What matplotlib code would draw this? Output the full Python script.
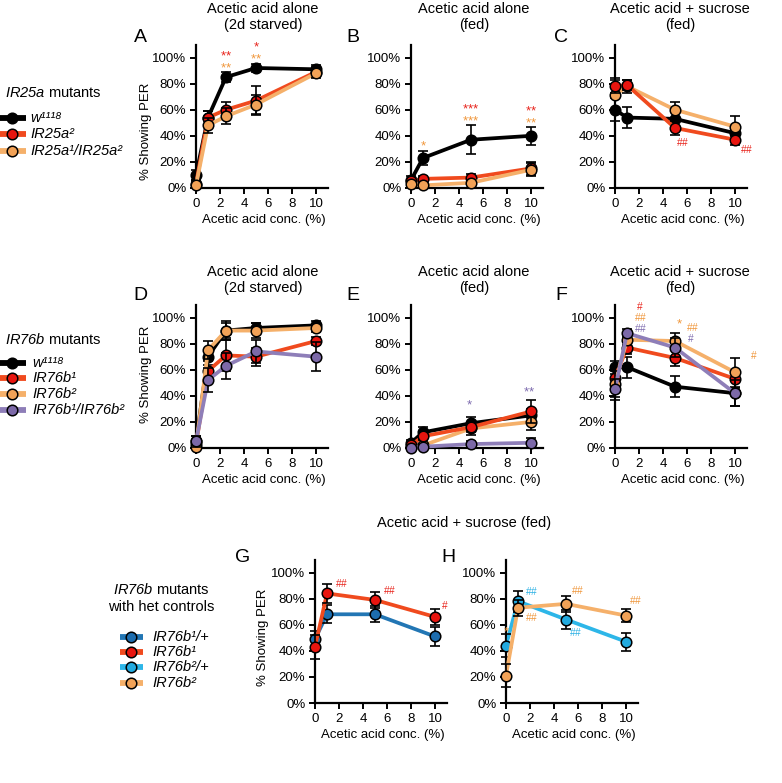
import matplotlib
matplotlib.use("Agg")
import matplotlib.pyplot as plt

plt.rcParams['font.family'] = ['Liberation Sans', 'DejaVu Sans']
plt.rcParams['mathtext.fontset'] = 'custom'
plt.rcParams['mathtext.rm'] = 'Liberation Sans:italic'
plt.rcParams['mathtext.it'] = 'Liberation Sans:italic'
plt.rcParams['mathtext.bf'] = 'Liberation Sans:bold'
plt.rcParams['mathtext.sf'] = 'Liberation Sans'

# ---------------- data ----------------
conc_starved = [0, 1, 2.5, 5, 10]
conc_fed = [0, 1, 5, 10]

# Panel A (IR25a, 2d starved)
a_w1118 = [10, 54, 85, 92, 91];   a_w1118_err = [4, 5, 4, 3, 3]
a_ir25a2 = [3, 54, 60, 67, 89];   a_ir25a2_err = [3, 5, 6, 11, 4]
a_ir25a12 = [2, 48, 55, 64, 88];  a_ir25a12_err = [3, 6, 6, 7, 4]
# Panel B (IR25a, fed)
b_w1118 = [6, 23, 37, 40];        b_w1118_err = [3, 5, 11, 7]
b_ir25a2 = [5, 7, 8, 15];         b_ir25a2_err = [2, 2, 3, 5]
b_ir25a12 = [3, 2, 4, 14];        b_ir25a12_err = [2, 2, 2, 5]
# Panel C (IR25a, acid + sucrose)
c_w1118 = [60, 54, 53, 42];       c_w1118_err = [9, 8, 6, 6]
c_ir25a2 = [78, 79, 46, 37];      c_ir25a2_err = [5, 4, 5, 4]
c_ir25a12 = [71, 78, 60, 47];     c_ir25a12_err = [13, 5, 6, 8]
# Panel D (IR76b, 2d starved)
d_w1118 = [5, 70, 90, 92, 94];    d_w1118_err = [4, 6, 6, 4, 3]
d_ir76b1 = [3, 59, 71, 70, 82];   d_ir76b1_err = [3, 8, 12, 7, 3]
d_ir76b2 = [1, 75, 90, 90, 92];   d_ir76b2_err = [2, 7, 7, 6, 3]
d_ir76b12 = [5, 52, 63, 74, 70];  d_ir76b12_err = [4, 9, 10, 9, 11]
# Panel E (IR76b, fed)
e_w1118 = [4, 12, 19, 25];        e_w1118_err = [2, 4, 5, 5]
e_ir76b1 = [2, 9, 16, 28];        e_ir76b1_err = [2, 3, 4, 9]
e_ir76b2 = [1, 2, 15, 20];        e_ir76b2_err = [1, 1, 5, 6]
e_ir76b12 = [0, 1, 3, 4];         e_ir76b12_err = [1, 1, 2, 4]
# Panel F (IR76b, acid + sucrose)
f_w1118 = [62, 62, 47, 42];       f_w1118_err = [5, 8, 8, 10]
f_ir76b1 = [54, 77, 69, 53];      f_ir76b1_err = [8, 5, 6, 7]
f_ir76b2 = [49, 83, 82, 58];      f_ir76b2_err = [10, 4, 6, 11]
f_ir76b12 = [45, 88, 77, 42];     f_ir76b12_err = [8, 3, 7, 10]
# Panel G (het controls)
g_ir76b1_het = [49, 68, 68, 51];  g_ir76b1_het_err = [6, 7, 6, 7]
g_ir76b1 = [43, 84, 79, 66];      g_ir76b1_err = [9, 7, 6, 6]
# Panel H (het controls)
h_ir76b2_het = [44, 78, 64, 47];  h_ir76b2_het_err = [9, 8, 7, 7]
h_ir76b2 = [21, 73, 76, 67];      h_ir76b2_err = [9, 6, 6, 5]

y_ticks = [0, 20, 40, 60, 80, 100]
x_ticks = [0, 2, 4, 6, 8, 10]

# significance marks: (x, y, text, color key)
ann_A = [(2.5, 102.9, "**", "red"), (2.5, 93.8, "**", "orange"),
         (5, 109.9, "*", "red"), (5, 100.8, "**", "orange")]
ann_B = [(1, 34.5, "*", "orange"), (5, 62.4, "***", "red"), (5, 53.4, "***", "orange"),
         (10, 60.9, "**", "red"), (10, 51.9, "**", "orange")]
ann_C = [(5.6, 35, "##", "red"), (11.0, 30, "##", "red")]
ann_D = []
ann_E = [(4.9, 35, "*", "purple"), (9.8, 45, "**", "purple")]
ann_F = [(2.1, 109, "#", "red"), (2.1, 100.5, "##", "orange"), (2.1, 92.2, "##", "purple"),
         (5.4, 97, "*", "orange"), (6.5, 93, "##", "orange"), (6.3, 84.5, "#", "purple"),
         (11.6, 71, "#", "orange")]
ann_G = [(2.2, 92, "##", "red"), (6.25, 86.5, "##", "red"), (10.8, 75, "#", "red")]
ann_H = [(2.1, 85.5, "##", "cyan"), (2.1, 66, "##", "orange"), (6.0, 86.5, "##", "orange"),
         (5.8, 54.7, "##", "cyan"), (10.8, 79, "##", "orange"), (0, 56, "*", "orange")]

# ---------------- styles ----------------
LINE = {"black": "#000000", "red": "#F04A1E", "orange": "#F5B06A",
        "purple": "#8E7EB8", "blue": "#2276B4", "cyan": "#2DB6E8"}
FACE = {"black": "#000000", "red": "#E8150F", "orange": "#F2A257",
        "purple": "#7C69A8", "blue": "#1D6DAE", "cyan": "#22AADF"}
TXT = {"red": "#E8231B", "orange": "#F0963A", "purple": "#7C6AAE", "cyan": "#2AB0E4"}

W, H = 782, 783
fig = plt.figure(figsize=(W / 100, H / 100), dpi=100)


def fx(px):
    return px / W


def fy(py):
    return 1 - py / H


def mark_text(t):
    if '*' in t:
        return r"$\mathsf{" + "".join("{*}" for _ in t) + "}$"
    return r"$\mathsf{" + r"\#" * len(t) + "}$"


def make_ax(left_px, bottom_px, series, x, ann):
    ax = fig.add_axes([fx(left_px), fy(bottom_px), 132 / W, 143.5 / H])
    ax.set_xlim(0, 11)
    ax.set_ylim(0, 110)
    for k, (y, e, col) in enumerate(series):
        z = 3 + k
        ax.plot(x, y, color=LINE[col], lw=2.7, zorder=z, clip_on=False,
                solid_capstyle='butt')
        lo = [min(ei, yi) for ei, yi in zip(e, y)]
        ax.errorbar(x, y, yerr=[lo, e], fmt='none', ecolor='black', elinewidth=1.2,
                    capsize=3.6, capthick=1.2, zorder=z + 0.1, clip_on=False)
        ax.plot(x, y, 'o', ms=7.6, mfc=FACE[col], mec='black', mew=1.1,
                zorder=z + 0.2, clip_on=False)
    for (xa, ya, t, c) in ann:
        if '*' in t:
            fs, yy = 9.5, ya - 1.5
        else:
            fs, yy = 7.3, ya
        ax.text(xa, yy, mark_text(t), color=TXT[c], fontsize=fs, ha='center',
                va='center', zorder=20, clip_on=False)
    ax.set_yticks(y_ticks)
    ax.set_yticklabels([f"{v}%" for v in y_ticks])
    ax.set_xticks(x_ticks)
    ax.set_xticklabels([str(v) for v in x_ticks])
    ax.tick_params(direction='out', length=4, width=1.4, labelsize=9.5, pad=3,
                   colors='black')
    for s in ['top', 'right']:
        ax.spines[s].set_visible(False)
    for s in ['left', 'bottom']:
        ax.spines[s].set_linewidth(1.6)
    ax.patch.set_alpha(0)
    fig.text(fx(left_px + 68), fy(bottom_px + 32), "Acetic acid conc. (%)",
             fontsize=9.5, ha='center', va='center')
    return ax


make_ax(196, 188, [(a_w1118, a_w1118_err, "black"), (a_ir25a2, a_ir25a2_err, "red"),
                   (a_ir25a12, a_ir25a12_err, "orange")], conc_starved, ann_A)
make_ax(411, 188, [(b_w1118, b_w1118_err, "black"), (b_ir25a2, b_ir25a2_err, "red"),
                   (b_ir25a12, b_ir25a12_err, "orange")], conc_fed, ann_B)
make_ax(615, 188, [(c_w1118, c_w1118_err, "black"), (c_ir25a12, c_ir25a12_err, "orange"),
                   (c_ir25a2, c_ir25a2_err, "red")], conc_fed, ann_C)
make_ax(196, 448, [(d_w1118, d_w1118_err, "black"), (d_ir76b1, d_ir76b1_err, "red"),
                   (d_ir76b2, d_ir76b2_err, "orange"), (d_ir76b12, d_ir76b12_err, "purple")],
        conc_starved, ann_D)
make_ax(411, 448, [(e_w1118, e_w1118_err, "black"), (e_ir76b2, e_ir76b2_err, "orange"),
                   (e_ir76b1, e_ir76b1_err, "red"), (e_ir76b12, e_ir76b12_err, "purple")],
        conc_fed, ann_E)
make_ax(615, 448, [(f_w1118, f_w1118_err, "black"), (f_ir76b1, f_ir76b1_err, "red"),
                   (f_ir76b2, f_ir76b2_err, "orange"), (f_ir76b12, f_ir76b12_err, "purple")],
        conc_fed, ann_F)
make_ax(315, 703, [(g_ir76b1_het, g_ir76b1_het_err, "blue"), (g_ir76b1, g_ir76b1_err, "red")],
        conc_fed, ann_G)
make_ax(506, 703, [(h_ir76b2_het, h_ir76b2_het_err, "cyan"), (h_ir76b2, h_ir76b2_err, "orange")],
        conc_fed, ann_H)

# titles
for cx, ty, l1, l2 in [(263, 9, "Acetic acid alone", "(2d starved)"),
                       (474, 9, "Acetic acid alone", "(fed)"),
                       (680, 9, "Acetic acid + sucrose", "(fed)"),
                       (263, 272, "Acetic acid alone", "(2d starved)"),
                       (474, 272, "Acetic acid alone", "(fed)"),
                       (680, 272, "Acetic acid + sucrose", "(fed)")]:
    fig.text(fx(cx), fy(ty), l1, fontsize=10.5, ha='center', va='center')
    fig.text(fx(cx), fy(ty + 16), l2, fontsize=10.5, ha='center', va='center')
fig.text(fx(464), fy(523), "Acetic acid + sucrose (fed)", fontsize=10.5,
         ha='center', va='center')

# panel letters
for lx, ly, L in [(140, 38, "A"), (353, 38, "B"), (561, 38, "C"),
                  (140, 295, "D"), (353, 295, "E"), (561, 295, "F"),
                  (243, 558, "G"), (448, 558, "H")]:
    fig.text(fx(lx), fy(ly), L, fontsize=14, ha='center', va='center')

# y labels
for lx, ly in [(146, 131), (146, 374), (263, 637)]:
    fig.text(fx(lx), fy(ly), "% Showing PER", fontsize=9.5, rotation=90,
             ha='center', va='center')

# ---------------- legends ----------------
lax = fig.add_axes([0, 0, 1, 1])
lax.set_xlim(0, W)
lax.set_ylim(H, 0)
lax.axis('off')


def legend_item(x0, x1, y, col, label, tx):
    lax.plot([x0, x1], [y, y], color=LINE[col], lw=4.2, solid_capstyle='butt')
    lax.plot([(x0 + x1) / 2 - 1], [y], 'o', ms=7.6, mfc=FACE[col], mec='black', mew=1.1)
    lax.text(tx, y, label, fontsize=10.5, fontstyle='italic', ha='left', va='center')


fig.text(fx(5), fy(93), r"$IR25a$ mutants", fontsize=10.5, ha='left', va='center')
legend_item(0, 26, 118, "black", "w\u00b9\u00b9\u00b9\u2078", 30)
legend_item(0, 26, 134, "red", "IR25a\u00b2", 30)
legend_item(0, 26, 151, "orange", "IR25a\u00b9/IR25a\u00b2", 30)

fig.text(fx(5), fy(339), r"$IR76b$ mutants", fontsize=10.5, ha='left', va='center')
legend_item(0, 26, 363, "black", "w\u00b9\u00b9\u00b9\u2078", 32)
legend_item(0, 26, 378, "red", "IR76b\u00b9", 32)
legend_item(0, 26, 394, "orange", "IR76b\u00b2", 32)
legend_item(0, 26, 410, "purple", "IR76b\u00b9/IR76b\u00b2", 32)

fig.text(fx(161), fy(590), r"$IR76b$ mutants", fontsize=10.5, ha='center', va='center')
fig.text(fx(161), fy(607), "with het controls", fontsize=10.5, ha='center', va='center')
legend_item(120, 143, 637, "blue", "IR76b\u00b9/+", 152)
legend_item(120, 143, 652, "red", "IR76b\u00b9", 152)
legend_item(120, 143, 667, "cyan", "IR76b\u00b2/+", 152)
legend_item(120, 143, 683, "orange", "IR76b\u00b2", 152)

fig.savefig("out.png", dpi=100)
